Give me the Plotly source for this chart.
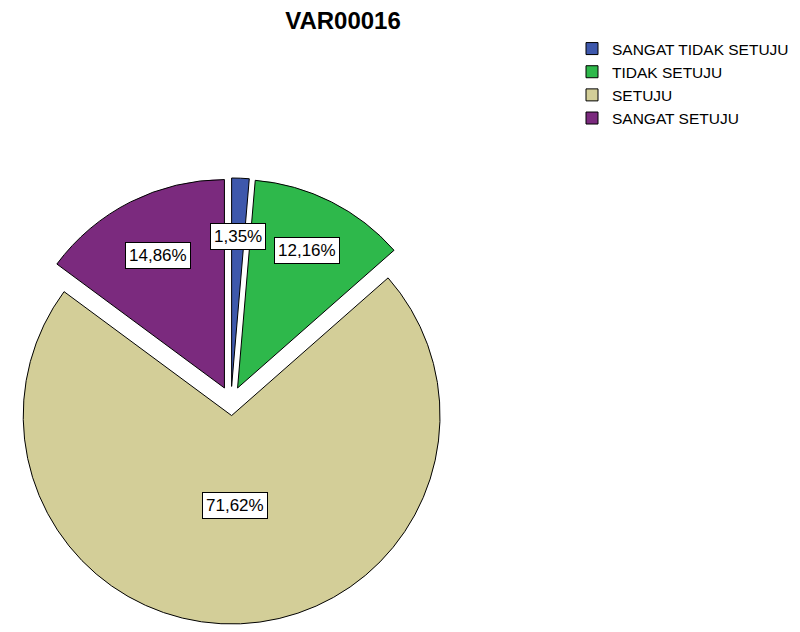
import math
import plotly.graph_objects as go

# ---- data ----
categories = ["SANGAT TIDAK SETUJU", "TIDAK SETUJU", "SETUJU", "SANGAT SETUJU"]
counts = [1, 9, 53, 11]
colors = ["#3E58AC", "#2EB84B", "#D3CE98", "#7B2A7E"]
title_text = "VAR00016"

# ---- layout parameters (pixels, page offset of 8px compensated) ----
W, H = 800, 632
OFF = 8
pull = 0.07
cx_px, cy_px = 231 - OFF, 401 - OFF
half = cx_px  # half of the pie box
label_frac = [0.72, 0.74, 0.43, 0.71]

total = sum(counts)
pct = [c / total * 100 for c in counts]
labels_txt = [f"{p:.2f}".replace(".", ",") + "%" for p in pct]

x0 = (cx_px - half) / W
x1 = (cx_px + half) / W
ymid = 1 - cy_px / H
y0 = ymid - half / H
y1 = ymid + half / H

fig = go.Figure(go.Pie(
    labels=categories,
    values=counts,
    sort=False,
    direction="clockwise",
    rotation=0,
    pull=[pull] * len(counts),
    marker=dict(colors=colors, line=dict(color="black", width=1)),
    textinfo="none",
    hoverinfo="label+percent",
    domain=dict(x=[x0, x1], y=[y0, y1]),
))

# label boxes positioned from the data (mid-angle of each slice)
r = half / (1 + pull)
cum = 0.0
for i, c in enumerate(counts):
    mid = (cum + c / 2) / total * 2 * math.pi
    cum += c
    d = pull * r + label_frac[i] * r
    px = cx_px + d * math.sin(mid)
    py = cy_px - d * math.cos(mid)
    fig.add_annotation(
        x=px / W, y=1 - py / H, xref="paper", yref="paper",
        text=labels_txt[i], showarrow=False,
        font=dict(family="Arial, Liberation Sans", size=17, color="black"),
        bgcolor="white", bordercolor="black", borderwidth=1, borderpad=3,
        xanchor="center", yanchor="middle",
    )

fig.update_layout(
    width=W, height=H,
    margin=dict(l=0, r=0, t=0, b=0),
    paper_bgcolor="white", plot_bgcolor="white",
    title=dict(text="<b>" + title_text + "</b>", x=(343 - OFF) / W, xanchor="center",
               y=1 - (21 - OFF) / H, yanchor="middle", yref="container",
               font=dict(family="Arial, Liberation Sans", size=24, color="black")),
    legend=dict(x=(572 - OFF) / W, xanchor="left", y=1 - 24 / H, yanchor="top",
                font=dict(family="Arial, Liberation Sans", size=15.5, color="black"),
                bgcolor="rgba(0,0,0,0)", traceorder="normal"),
    showlegend=True,
)

fig.write_html("out.html")
